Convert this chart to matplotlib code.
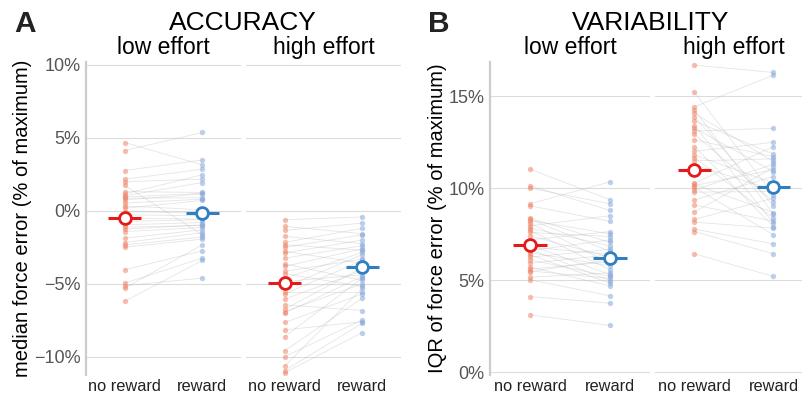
"""Paired reward / no-reward plot: accuracy (A) and variability (B) of force."""

import matplotlib

matplotlib.use("Agg")

import matplotlib.pyplot as plt
import numpy as np

# A. median force error (% of maximum), one entry per participant (same order in each pair)
acc_low_noreward = [4.68, 4.13, 2.76, 2.17, 2.0, 1.74, 1.32, 1.16, 1.03, 0.95, 0.87, 0.75,
                    0.53, 0.34, 0.18, -0.05, -0.27, -0.5, -0.73, -0.96, -1.12, -1.26, -1.42,
                    -1.87, -2.17, -2.33, -2.49, -4.04, -4.95, -5.13, -5.29, -6.2]
acc_low_reward = [3.15, 5.37, 3.49, 2.85, 2.17, -1.64, 1.26, 2.47, 1.94, 1.2, 0.9, 1.16,
                  0.8, 0.07, 0.71, -0.16, -0.34, -0.57, -0.6, -0.8, -1.0, -0.96, -1.14,
                  -1.3, -1.5, -1.8, -1.94, -2.74, -3.24, -4.61, -2.33, -3.4]
acc_high_noreward = [-0.61, -1.06, -1.34, -1.75, -2.16, -2.32, -2.5, -2.78, -2.89, -3.24, -3.63,
                     -3.81, -4.15, -4.31, -4.61, -4.84, -5.23, -5.53, -5.69, -6.05, -6.44, -6.74,
                     -6.9, -7.01, -7.65, -8.16, -8.62, -9.58, -9.99, -10.63, -10.95, -11.09]
acc_high_reward = [-0.42, -1.57, -0.84, -2.25, -1.2, -2.71, -1.64, -3.58, -2.0, -2.39, -4.77,
                   -2.6, -3.31, -5.18, -2.85, -4.38, -3.0, -5.53, -3.4, -4.1, -6.83, -3.9,
                   -5.0, -4.5, -5.69, -7.6, -4.61, -5.98, -7.47, -5.3, -7.7, -8.34]
acc_means = {"low": (-0.46, -0.16), "high": (-4.95, -3.88)}

# B. IQR of force error (% of maximum)
var_low_noreward = [11.03, 10.13, 10.0, 9.15, 9.04, 8.37, 8.3, 8.24, 8.10, 7.95, 7.83, 7.7,
                    7.59, 7.41, 7.19, 6.92, 6.8, 6.68, 6.6, 6.50, 6.38, 6.25, 6.11, 5.92,
                    5.71, 5.60, 5.5, 5.47, 5.16, 5.02, 4.11, 3.12]
var_low_reward = [9.37, 8.79, 9.15, 10.34, 8.19, 7.05, 6.56, 7.52, 5.92, 8.5, 6.87, 5.56,
                  7.37, 6.25, 7.64, 5.29, 6.4, 4.98, 7.19, 5.78, 4.84, 6.68, 5.2, 6.38,
                  4.69, 6.0, 5.1, 6.11, 5.4, 4.15, 3.75, 2.54]
var_high_noreward = [16.68, 15.2, 14.42, 14.24, 14.06, 13.88, 13.65, 13.39, 13.25, 13.1, 12.92,
                     12.62, 12.26, 12.0, 11.8, 11.66, 11.48, 11.26, 10.27, 10.2, 10.14, 10.04,
                     9.91, 9.78, 9.36, 9.09, 8.71, 8.3, 8.15, 7.77, 7.64, 6.43]
var_high_reward = [16.28, 9.64, 16.14, 8.6, 11.44, 9.04, 11.84, 8.1, 10.9, 13.25, 9.27,
                   11.71, 7.91, 12.49, 10.27, 8.37, 11.59, 9.9, 12.26, 8.67, 11.0, 7.46,
                   11.3, 9.82, 10.63, 8.2, 11.12, 9.46, 7.83, 6.97, 6.43, 5.2]
var_means = {"low": (6.92, 6.23), "high": (11.0, 10.05)}

conditions = ["no reward", "reward"]
effort_titles = ["low effort", "high effort"]

RED_PT, BLUE_PT = "#f0876a", "#88a9dc"
RED, BLUE = "#e41a1c", "#2f7fc1"
GRID = "#dcdcdc"

plt.rcParams["font.family"] = ["Liberation Sans", "DejaVu Sans"]

W, H = 803, 398
fig = plt.figure(figsize=(W / 100, H / 100), dpi=100)


def px_axes(x0, x1, y_top=62, y_bot=375):
    return fig.add_axes([x0 / W, 1 - y_bot / H, (x1 - x0) / W, (y_bot - y_top) / H])


def draw_pairs(ax, first, second, means, first_axis):
    a = np.asarray(first)
    b = np.asarray(second)
    for ya, yb in zip(a, b):
        ax.plot([0, 1], [ya, yb], color="#b5b5b5", lw=0.6, alpha=0.35, zorder=1)
    ax.scatter(np.zeros_like(a), a, s=15, color=RED_PT, alpha=0.55, lw=0, zorder=2)
    ax.scatter(np.ones_like(b), b, s=15, color=BLUE_PT, alpha=0.55, lw=0, zorder=2)
    for x, m, col in zip([0, 1], means, [RED, BLUE]):
        ax.plot([x - 0.21, x + 0.21], [m, m], color=col, lw=2.2, zorder=3,
                solid_capstyle="butt")
        ax.plot(x, m, "o", ms=8.5, mfc="white", mec=col, mew=2, zorder=4)

    ax.set_xlim(-0.5, 1.5)
    ax.set_xticks([0, 1], conditions)
    ax.tick_params(axis="x", length=0, pad=3, labelsize=11.8, labelcolor="#222222")
    ax.tick_params(axis="y", length=0, pad=4, labelsize=13, labelcolor="#555555")
    ax.grid(axis="y", color=GRID, lw=0.8)
    ax.set_axisbelow(True)
    for side in ["top", "right", "bottom", "left"]:
        ax.spines[side].set_visible(False)
    if first_axis:
        ax.spines["left"].set_visible(True)
        ax.spines["left"].set_color("#cccccc")
        ax.spines["left"].set_linewidth(1.6)
    else:
        ax.tick_params(axis="y", labelleft=False)


def pct(v, _pos=None):
    return f"{v:.0f}%".replace("-", "\u2212")


# panel A
axA1 = px_axes(86, 241)
axA2 = px_axes(246, 401)
draw_pairs(axA1, acc_low_noreward, acc_low_reward, acc_means["low"], True)
draw_pairs(axA2, acc_high_noreward, acc_high_reward, acc_means["high"], False)
for ax in (axA1, axA2):
    ax.set_ylim(-11.25, 10.2)
    ax.set_yticks([-10, -5, 0, 5, 10])
    ax.yaxis.set_major_formatter(pct)
axA1.set_ylabel("median force error (% of maximum)", fontsize=14.5, labelpad=1)

# panel B
axB1 = px_axes(490, 650)
axB2 = px_axes(655, 813)
draw_pairs(axB1, var_low_noreward, var_low_reward, var_means["low"], True)
draw_pairs(axB2, var_high_noreward, var_high_reward, var_means["high"], False)
for ax in (axB1, axB2):
    ax.set_ylim(-0.15, 16.85)
    ax.set_yticks([0, 5, 10, 15])
    ax.yaxis.set_major_formatter(pct)
axB1.set_ylabel("IQR of force error (% of maximum)", fontsize=14.5, labelpad=1)

for ax, title in zip([axA1, axA2, axB1, axB2], effort_titles * 2):
    ax.set_title(title, fontsize=16.5, pad=6)

# panel headings
fig.text(243 / W, 1 - 30 / H, "ACCURACY", fontsize=19, ha="center", va="baseline")
fig.text(651 / W, 1 - 30 / H, "VARIABILITY", fontsize=19, ha="center", va="baseline")
fig.text(14 / W, 1 - 32 / H, "A", fontsize=21.5, fontweight="bold", va="baseline",
         color="#222222")
fig.text(428 / W, 1 - 32 / H, "B", fontsize=21.5, fontweight="bold", va="baseline",
         color="#222222")

fig.savefig("out.png", dpi=100)
